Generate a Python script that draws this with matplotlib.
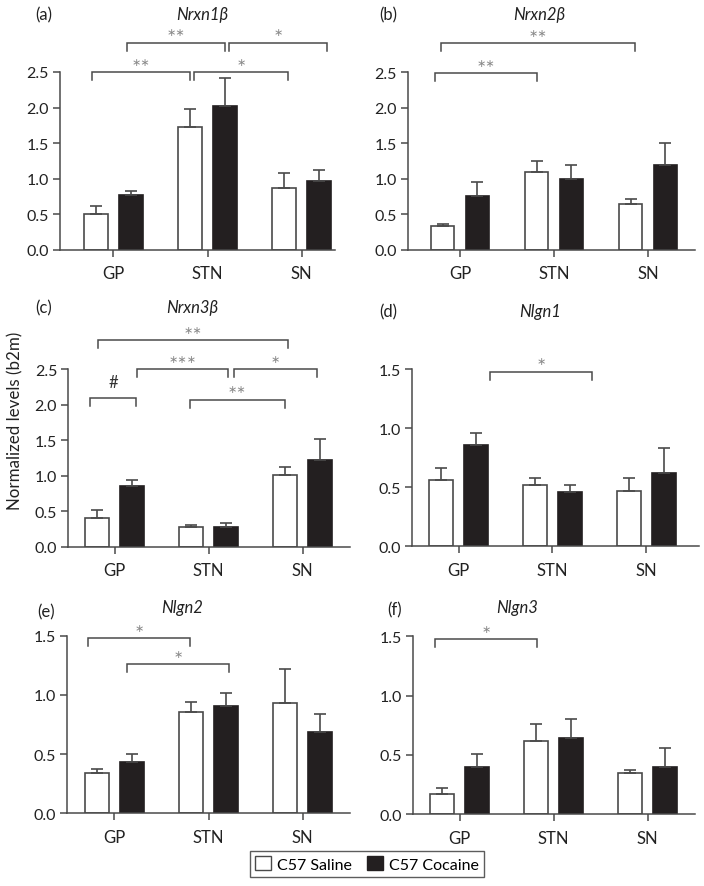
import matplotlib
matplotlib.use("Agg")
import matplotlib.pyplot as plt
from matplotlib.patches import Patch
import numpy as np

plt.rcParams['font.family'] = ['Lato', 'DejaVu Sans']

regions = ["GP", "STN", "SN"]
series_names = ["C57 Saline", "C57 Cocaine"]

genes = ["Nrxn1β", "Nrxn2β", "Nrxn3β", "Nlgn1", "Nlgn2", "Nlgn3"]
panel_labels = ["(a)", "(b)", "(c)", "(d)", "(e)", "(f)"]

saline_mean = [
    [0.50, 1.73, 0.875],
    [0.33, 1.09, 0.64],
    [0.41, 0.28, 1.01],
    [0.56, 0.52, 0.47],
    [0.34, 0.853, 0.934],
    [0.17, 0.62, 0.345],
]
saline_sem = [
    [0.12, 0.25, 0.21],
    [0.035, 0.16, 0.07],
    [0.11, 0.03, 0.12],
    [0.10, 0.055, 0.105],
    [0.034, 0.09, 0.282],
    [0.05, 0.14, 0.031],
]
cocaine_mean = [
    [0.77, 2.02, 0.97],
    [0.75, 0.99, 1.19],
    [0.86, 0.28, 1.22],
    [0.86, 0.46, 0.62],
    [0.43, 0.91, 0.684],
    [0.40, 0.64, 0.40],
]
cocaine_sem = [
    [0.06, 0.40, 0.16],
    [0.21, 0.21, 0.31],
    [0.08, 0.06, 0.30],
    [0.095, 0.06, 0.21],
    [0.07, 0.11, 0.156],
    [0.11, 0.16, 0.156],
]
y_top = [2.5, 2.5, 2.5, 1.5, 1.5, 1.5]

# significance brackets: (x_start, x_end, y, label) in data coordinates
brackets = [
    [(-0.23, 0.81, 2.50, "**"), (0.86, 1.86, 2.50, "*"),
     (0.14, 1.19, 2.91, "**"), (1.23, 2.27, 2.91, "*")],
    [(-0.27, 0.82, 2.49, "**"), (-0.20, 1.86, 2.91, "**")],
    [(-0.18, 1.84, 2.91, "**"), (0.24, 1.21, 2.50, "***"), (1.27, 2.15, 2.50, "*"),
     (-0.26, 0.23, 2.10, "#"), (0.80, 1.81, 2.07, "**")],
    [(0.34, 1.42, 1.477, "*")],
    [(-0.28, 0.80, 1.478, "*"), (0.13, 1.22, 1.258, "*")],
    [(-0.26, 0.82, 1.475, "*")],
]

W, H = 704, 887
# axes boxes in pixels: left, right, top, bottom ; and xlim
boxes = [
    (60, 335, 73, 251, (-0.569, 2.356)),
    (408, 695, 73.3, 250.7, (-0.553, 2.50)),
    (68.3, 350, 370.3, 547.7, (-0.493, 2.505)),
    (412, 699, 370, 547.3, (-0.495, 2.559)),
    (67, 350, 636.7, 814.3, (-0.505, 2.505)),
    (413, 695, 637.3, 815.3, (-0.495, 2.505)),
]
title_pos = [(202, 15), (539, 15), (192, 308), (540, 312), (182, 608), (517, 608)]
label_pos = [(35, 15), (379, 15), (35, 308), (379, 312), (37, 612), (387, 610)]

line_col = "#4a4a4a"
black_fill = "#231f20"
bar_w = 0.25
off = 0.186

fig = plt.figure(figsize=(W / 100, H / 100), dpi=100)

for i in range(6):
    l, r, t, b, xl = boxes[i]
    ax = fig.add_axes([l / W, 1 - b / H, (r - l) / W, (b - t) / H])
    x = np.arange(len(regions))
    zeros = np.zeros(3)
    ax.bar(x - off, saline_mean[i], bar_w, color="white", edgecolor=line_col,
           linewidth=1.2, yerr=[zeros, saline_sem[i]],
           error_kw=dict(ecolor=line_col, elinewidth=1.2, capsize=4.5, capthick=1.2),
           zorder=2)
    ax.bar(x + off, cocaine_mean[i], bar_w, color=black_fill, edgecolor=black_fill,
           linewidth=1.2, yerr=[zeros, cocaine_sem[i]],
           error_kw=dict(ecolor=line_col, elinewidth=1.2, capsize=4.5, capthick=1.2),
           zorder=1)
    ax.set_xlim(*xl)
    yt = y_top[i]
    ax.set_ylim(0, yt)
    ax.set_yticks(np.arange(0, yt + 0.01, 0.5))
    ax.set_yticklabels([f"{v:.1f}" for v in np.arange(0, yt + 0.01, 0.5)])
    ax.set_xticks(x)
    ax.set_xticklabels(regions)
    for s in ["top", "right"]:
        ax.spines[s].set_visible(False)
    for s in ["left", "bottom"]:
        ax.spines[s].set_color(line_col)
        ax.spines[s].set_linewidth(1.1)
    ax.tick_params(axis="both", direction="out", length=5, width=1.1,
                   color=line_col, labelsize=11.5, labelcolor="#222222")
    ax.tick_params(axis="x", pad=6, labelsize=12)
    ax.tick_params(axis="y", pad=3)
    ax.patch.set_visible(False)

    drop = 0.045 * yt
    for (x1, x2, yy, lab) in brackets[i]:
        ax.plot([x1, x1, x2, x2], [yy - drop, yy, yy, yy - drop], color=line_col,
                lw=1.1, clip_on=False, solid_joinstyle="miter")
        if lab == "#":
            ax.annotate(lab, xy=((x1 + x2) / 2, yy), xytext=(0, 11.5),
                        textcoords="offset points", ha="center", va="center",
                        fontsize=12, color="#333333", annotation_clip=False)
        else:
            star = "\u2217" * len(lab)
            ax.annotate(star, xy=((x1 + x2) / 2, yy), xytext=(0, 7.5),
                        textcoords="offset points", ha="center", va="center",
                        fontsize=8, color="#8a8a8a", family="DejaVu Sans",
                        annotation_clip=False)

    tx, ty = title_pos[i]
    fig.text(tx / W, 1 - ty / H, genes[i], ha="center", va="center",
             fontsize=12, style="italic", color="#222222")
    lx, ly = label_pos[i]
    fig.text(lx / W, 1 - ly / H, panel_labels[i], ha="left", va="center",
             fontsize=12, color="#222222")

fig.text(15 / W, 1 - 421 / H, "Normalized levels (b2m)", rotation=90,
         ha="center", va="center", fontsize=12.2, color="#222222")

handles = [Patch(facecolor="white", edgecolor=line_col, linewidth=1.0),
           Patch(facecolor=black_fill, edgecolor=black_fill)]
leg = fig.legend(handles, series_names, loc="center", ncol=2,
                 bbox_to_anchor=(367 / W, 1 - 865 / H), frameon=True, fancybox=False,
                 edgecolor="#333333", fontsize=11.5, handlelength=1.0, handleheight=1.0,
                 handletextpad=0.4, columnspacing=0.9, borderpad=0.3, borderaxespad=0)
leg.get_frame().set_linewidth(1.0)

fig.savefig("out.png", dpi=100)
